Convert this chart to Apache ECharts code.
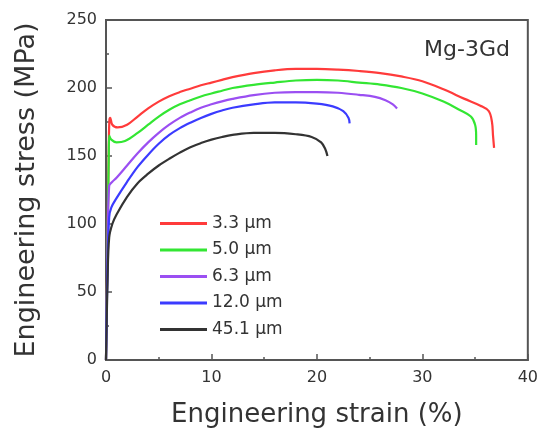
<!DOCTYPE html>
<html>
<head>
<meta charset="utf-8">
<title>Mg-3Gd tensile curves</title>
<script src="https://cdn.jsdelivr.net/npm/echarts@6/dist/echarts.min.js"></script>
<style>
  html, body, #main { width: 100%; height: 100%; margin: 0; padding: 0; background: #fff; }
</style>
</head>
<body>
<div id="main"></div>
<script>
// grain sizes
var names = ['3.3 μm', '5.0 μm', '6.3 μm', '12.0 μm', '45.1 μm'];
var colors = ['#ff3b3b', '#33e633', '#9b4ff2', '#3b3bff', '#333333'];

// [strain %, stress MPa]
var d33 = [[0,0],[0.15,90],[0.25,150],[0.32,176],[0.4,178],[0.6,173],[1.1,171],[2,173],[3,179],[4,185],[5,190],[6,194],[7,197],[8,199.5],[9,202],[10,204],[11,206],[12,208],[14,211],[16,213],[18,214],[20,214],[22,213.5],[24,212.5],[26,211],[28,208.5],[30,205],[32,199],[34,192],[35.5,187],[36.3,183],[36.6,175],[36.7,165],[36.8,156]];
var d50 = [[0,0],[0.15,85],[0.22,128],[0.26,150],[0.3,165],[0.5,162],[1,160],[1.8,161],[3,167],[4,173],[5,179],[6,184],[7,188],[8,191],[9,193.8],[10,196],[11,198],[12,200],[14,202.3],[16,204],[18,205.5],[20,206],[22,205.5],[24,204],[26,202.5],[28,200],[30,196],[32,190],[33.5,184],[34.6,179],[35,173],[35.1,165],[35.1,158]];
var d63 = [[0,0],[0.15,80],[0.3,128],[0.6,131],[1,134],[2,143],[3,152],[4,160],[5,167],[6,173],[7,178],[8,182],[9,185.5],[10,188],[11,190.2],[12,192],[14,194.8],[16,196.5],[18,197],[20,197],[22,196.5],[24,195],[25.5,193.5],[26.5,191],[27.2,188],[27.6,185]];
var d120 = [[0,0],[0.15,70],[0.3,105],[0.5,112],[1,119],[2,131],[3,142],[4,151],[5,159],[6,165.5],[7,170.5],[8,174.5],[9,178],[10,181],[11,183.5],[12,185.5],[14,188],[16,189.5],[18,189.5],[20,188.5],[21.5,186.5],[22.5,183],[23,178],[23.1,174]];
var d451 = [[0,0],[0.15,60],[0.3,90],[0.6,100],[1,107],[2,120],[3,130],[4,137],[5,143],[6,148],[7,152.5],[8,156.5],[9,159.5],[10,162],[11,164],[12,165.5],[14,167],[16,167],[18,166],[19.5,164],[20.4,160],[20.8,155],[21,150]];
var curves = [d33, d50, d63, d120, d451];

var chart = echarts.init(document.getElementById('main'));

var series = curves.map(function (d, i) {
    return {
        name: names[i],
        type: 'line',
        data: d,
        showSymbol: false,
        smooth: 0.35,
        clip: true,
        lineStyle: { color: colors[i], width: 2.2 },
        itemStyle: { color: colors[i] }
    };
});

chart.setOption({
    animation: false,
    backgroundColor: '#fff',
    grid: {
        left: 106, right: 9, top: 20, bottom: 75,
        show: true, borderColor: '#555', borderWidth: 2, backgroundColor: 'transparent'
    },
    legend: {
        orient: 'vertical',
        left: 155,
        top: 210,
        icon: 'rect',
        itemWidth: 47,
        itemHeight: 3,
        itemGap: 9.5,
        textStyle: { fontFamily: 'DejaVu Sans', fontSize: 17, color: '#333', lineHeight: 17 },
        data: names
    },
    graphic: [{
        type: 'text',
        right: 31,
        top: 39,
        style: { text: 'Mg-3Gd', font: '22px "DejaVu Sans"', fill: '#333' }
    }],
    xAxis: {
        type: 'value',
        min: 0, max: 40, interval: 10,
        name: 'Engineering strain (%)',
        nameLocation: 'middle',
        nameGap: 42,
        nameTextStyle: { fontFamily: 'DejaVu Sans', fontSize: 26, color: '#333' },
        axisLine: { show: true, lineStyle: { color: '#555', width: 2 } },
        axisTick: { inside: true, length: 6, lineStyle: { color: '#555', width: 1.5 } },
        minorTick: { show: true, splitNumber: 2, length: 3, lineStyle: { color: '#555', width: 1.5 } },
        axisLabel: { fontFamily: 'DejaVu Sans', fontSize: 16, color: '#333', margin: 10 },
        splitLine: { show: false }
    },
    yAxis: {
        type: 'value',
        min: 0, max: 250, interval: 50,
        name: 'Engineering stress (MPa)',
        nameLocation: 'middle',
        nameGap: 66,
        nameTextStyle: { fontFamily: 'DejaVu Sans', fontSize: 27, color: '#333' },
        axisLine: { show: true, lineStyle: { color: '#555', width: 2 } },
        axisTick: { inside: true, length: 6, lineStyle: { color: '#555', width: 1.5 } },
        minorTick: { show: true, splitNumber: 2, length: 3, lineStyle: { color: '#555', width: 1.5 } },
        axisLabel: { fontFamily: 'DejaVu Sans', fontSize: 16, color: '#333', margin: 9 },
        splitLine: { show: false }
    },
    series: series
});
</script>
</body>
</html>
